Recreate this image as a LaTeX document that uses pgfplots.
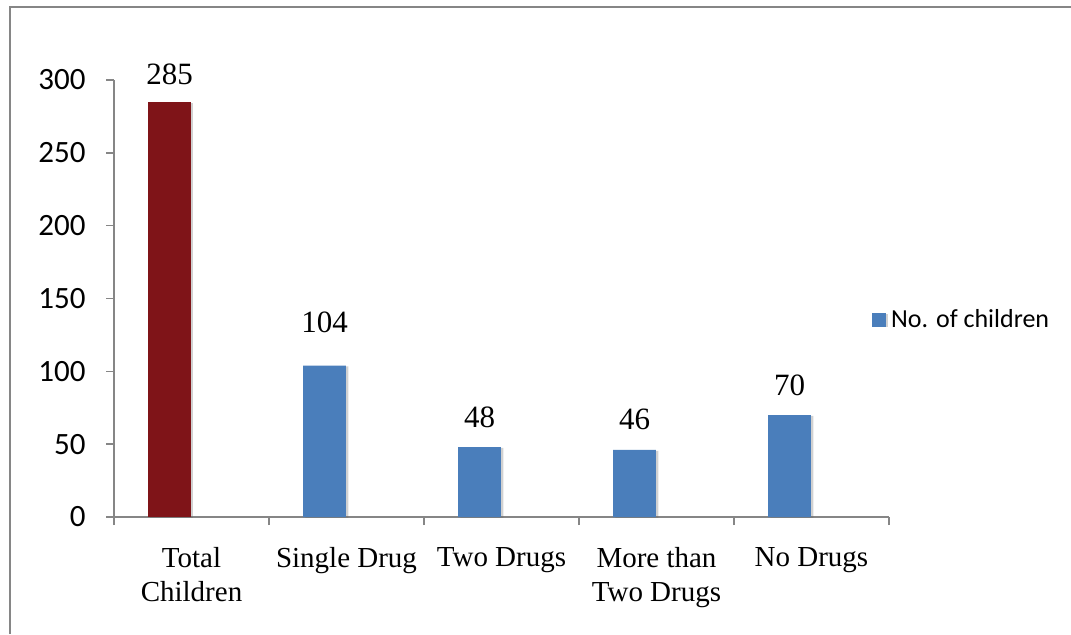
\documentclass[border=0pt]{standalone}
\usepackage{fontspec}
\setmainfont{Liberation Serif}
\newfontfamily\calibri{Carlito}
\usepackage{pgfplots}
\pgfplotsset{compat=1.18}
\usetikzlibrary{shadows}
\definecolor{barred}{RGB}{127,20,24}
\definecolor{barblue}{RGB}{74,126,187}
\definecolor{axgray}{RGB}{134,134,134}
\begin{document}
\begin{tikzpicture}
\useasboundingbox (0,0) rectangle (535.5pt,317pt);
\draw[axgray, line width=1pt] (5pt,0pt) -- (5pt,313.5pt) -- (535.5pt,313.5pt);
\begin{axis}[at={(57pt,58.5pt)}, anchor=south west, scale only axis,
  width=387.5pt, height=218.5pt,
  xmin=-0.5, xmax=4.5, ymin=0, ymax=300,
  axis x line*=bottom, axis y line*=left,
  axis line style={axgray, line width=0.8pt},
  xtick={0,...,4},
  xticklabels={{Total\\Children},{Single Drug},{Two Drugs},{More than\\Two Drugs},{No Drugs}},
  ytick={0,50,...,300},
  minor xtick={-0.5,0.5,...,4.5}, minor ytick={0,50,...,300},
  major tick length=0pt, minor tick length=4pt, tick align=outside,
  tick style={axgray, line width=0.8pt},
  xticklabel style={font=\fontsize{14.5}{17}\selectfont, align=center, anchor=north, inner sep=0pt, yshift=-15pt},
  yticklabel style={font=\calibri\fontsize{15.5}{18}\selectfont, anchor=east, inner sep=0pt, xshift=-14pt},
  /pgf/number format/assume math mode=true,
  legend style={draw=none, fill=none, at={(axis description cs:0.977,0.451)}, anchor=west,
    font=\calibri\fontsize{13}{15}\selectfont, inner sep=0pt,
    nodes={inner xsep=2.8pt}},
  legend image code/.code={\fill[barblue] (0pt,-3.3pt) rectangle (7pt,3.3pt);},
  every node near coord/.append style={font=\fontsize{15.5}{18}\selectfont, anchor=south, inner sep=0pt, xshift=-11pt},
]
\addplot[ybar, bar width=0.277, bar shift=-0.142, fill=barred, draw=none, forget plot,
  drop shadow={shadow xshift=1.2pt, shadow yshift=-0.4pt, opacity=0.3, fill=black!60},
  nodes near coords, nodes near coords style={yshift=8.5pt}]
  coordinates {(0,285)};
\addplot[ybar, bar width=0.277, bar shift=-0.142, fill=barblue, draw=none,
  drop shadow={shadow xshift=1.2pt, shadow yshift=-0.4pt, opacity=0.3, fill=black!60},
  visualization depends on={value \thisrow{off}\as\myoff},
  nodes near coords, nodes near coords style={yshift=\myoff pt}]
  table[x=x, y=y] {
x y off
1 104 16
2 48 9.5
3 46 10
4 70 9.5
};
\addlegendentry{No. of children}
\end{axis}
\end{tikzpicture}
\end{document}
